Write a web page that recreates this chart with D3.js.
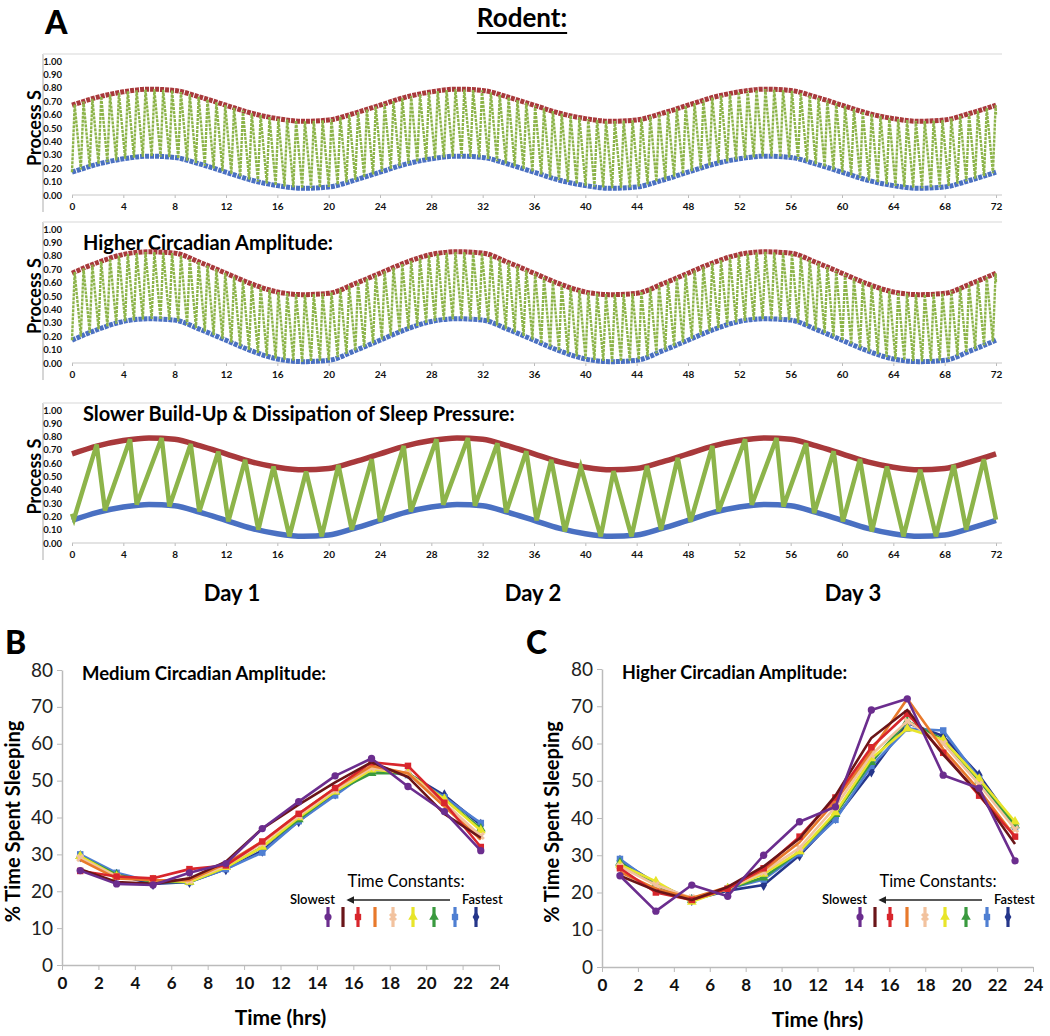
<!DOCTYPE html>
<html><head><meta charset="utf-8">
<script src="https://cdn.jsdelivr.net/npm/d3@7"></script>
<style>
body{margin:0;background:#fff}
svg{display:block}
text{font-family:Lato,"Open Sans",sans-serif}
</style>
</head><body>
<svg id="c" width="1050" height="1036"></svg>
<script>
// ---------------- DATA ----------------
// Panel A: hours for threshold readings
const hoursA = [0,2,4,6,8,10,12,14,16,18,20,22,24,26,28,30,32,34,36,38,40,42,44,46,48,50,52,54,56,58,60,62,64,66,68,70,72];
const xTicksA = [0,4,8,12,16,20,24,28,32,36,40,44,48,52,56,60,64,68,72];
const yTicksA = [0,0.1,0.2,0.3,0.4,0.5,0.6,0.7,0.8,0.9,1.0];
// Upper / lower thresholds, panel A1 (medium amplitude) — also panel A3
const upperA1 = [0.67,0.73,0.77,0.79,0.78,0.73,0.67,0.61,0.57,0.55,0.56,0.61,0.67,0.73,0.77,0.79,0.78,0.73,0.67,0.61,0.57,0.55,0.56,0.61,0.67,0.73,0.77,0.79,0.78,0.73,0.67,0.61,0.57,0.55,0.56,0.61,0.67];
const lowerA1 = [0.17,0.23,0.27,0.29,0.28,0.23,0.17,0.11,0.07,0.05,0.06,0.11,0.17,0.23,0.27,0.29,0.28,0.23,0.17,0.11,0.07,0.05,0.06,0.11,0.17,0.23,0.27,0.29,0.28,0.23,0.17,0.11,0.07,0.05,0.06,0.11,0.17];
// Panel A2 (higher amplitude)
const upperA2 = [0.67,0.75,0.81,0.83,0.82,0.75,0.67,0.59,0.53,0.51,0.52,0.59,0.67,0.75,0.81,0.83,0.82,0.75,0.67,0.59,0.53,0.51,0.52,0.59,0.67,0.75,0.81,0.83,0.82,0.75,0.67,0.59,0.53,0.51,0.52,0.59,0.67];
const lowerA2 = [0.17,0.25,0.31,0.33,0.32,0.25,0.17,0.09,0.03,0.01,0.02,0.09,0.17,0.25,0.31,0.33,0.32,0.25,0.17,0.09,0.03,0.01,0.02,0.09,0.17,0.25,0.31,0.33,0.32,0.25,0.17,0.09,0.03,0.01,0.02,0.09,0.17];
const fastCycleA1 = 0.69;
const fastCycleA2 = 0.69;
// Panel A3 slow sawtooth vertices (hours, Process S)
const sawTimesA3 = [0,0.15,1.92,2.57,4.52,5.04,6.99,7.59,9.25,9.92,11.4,12.18,13.49,14.52,15.7,16.94,18.24,19.46,20.76,21.8,23.36,24.0,
  25.85,26.4,28.4,28.93,30.85,31.4,33.15,33.83,35.4,36.2,37.35,38.4,39.65,41.2,42.2,43.6,44.8,45.9,47.2,48.2,
  49.9,50.37,52.45,52.97,54.9,55.44,57.2,57.83,59.35,60.07,61.4,62.33,63.5,64.79,66.1,67.32,68.7,69.68,71.05,72.0];
const sawValuesA3 = [0.22,0.18,0.74,0.245,0.78,0.29,0.79,0.275,0.745,0.237,0.687,0.162,0.625,0.10,0.575,0.05,0.537,0.05,0.587,0.10,0.63,0.162,
  0.73,0.237,0.78,0.287,0.79,0.28,0.75,0.23,0.69,0.17,0.625,0.087,0.57,0.05,0.54,0.05,0.58,0.10,0.64,0.16,
  0.73,0.237,0.78,0.287,0.79,0.275,0.75,0.225,0.69,0.162,0.63,0.087,0.575,0.05,0.55,0.05,0.587,0.10,0.63,0.175];
const dayLabels = ["Day 1","Day 2","Day 3"];

// Panels B / C
const hoursBC = [1,3,5,7,9,11,13,15,17,19,21,23];
const xTicksBC = [0,2,4,6,8,10,12,14,16,18,20,22,24];
const yTicksBC = [0,10,20,30,40,50,60,70,80];
// B: medium circadian amplitude (slowest -> fastest time constants)
const B_purple    = [25.6,22.0,21.7,25.0,27.5,37.0,44.3,51.3,56.0,48.4,41.6,31.0];
const B_maroon    = [26.0,22.5,22.0,23.5,28.0,37.0,43.5,49.5,55.0,51.0,41.0,34.5];
const B_red       = [25.5,24.0,23.5,26.0,27.0,33.5,41.0,48.0,55.0,54.0,44.0,32.0];
const B_orange    = [28.5,23.5,23.0,23.0,27.5,33.5,41.0,48.0,54.0,52.0,43.0,34.0];
const B_peach     = [29.0,24.0,23.0,23.0,27.0,33.0,40.5,47.5,53.5,52.0,44.0,35.0];
const B_yellow    = [29.5,24.0,23.0,22.5,26.5,32.0,40.0,47.0,53.0,52.0,45.0,36.5];
const B_green     = [29.5,24.5,22.5,22.5,26.5,32.0,39.5,47.0,52.0,52.0,45.0,37.0];
const B_lightblue = [30.0,25.0,22.5,22.5,26.0,30.5,39.0,46.0,53.0,51.5,45.5,38.5];
const B_navy      = [29.5,24.5,22.0,22.5,26.0,31.0,39.0,46.5,53.0,52.0,46.0,38.0];
// C: higher circadian amplitude
const C_purple    = [24.5,15.0,22.0,19.0,30.0,39.0,43.0,69.0,72.0,51.5,48.0,28.5];
const C_maroon    = [24.5,20.5,18.0,21.5,27.0,34.5,46.0,61.5,69.0,57.0,46.5,33.0];
const C_red       = [26.5,20.0,18.0,21.0,26.5,35.0,45.5,59.0,68.0,57.5,46.0,35.0];
const C_orange    = [25.5,21.0,18.5,21.5,26.0,33.5,44.5,58.0,72.0,58.5,47.5,35.0];
const C_peach     = [27.0,22.0,18.5,21.0,25.5,32.0,43.0,57.0,66.0,60.0,49.0,37.0];
const C_yellow    = [27.5,23.0,17.5,21.0,25.0,31.0,41.5,56.0,64.0,61.0,50.5,39.0];
const C_green     = [28.0,22.0,18.0,21.0,24.0,31.0,41.0,55.0,66.0,61.0,50.0,38.0];
const C_lightblue = [29.0,22.0,18.0,21.0,23.5,30.5,39.5,54.0,64.0,63.5,50.5,37.5];
const C_navy      = [28.5,22.5,18.0,20.5,22.0,30.0,40.0,52.5,65.5,62.0,51.5,38.0];

const seriesB = [B_purple,B_maroon,B_red,B_orange,B_peach,B_yellow,B_green,B_lightblue,B_navy];
const seriesC = [C_purple,C_maroon,C_red,C_orange,C_peach,C_yellow,C_green,C_lightblue,C_navy];

// ---------------- STYLE ----------------
const tcColors = ['#6b2d8e','#6a1519','#d8262c','#e8792b','#f2c29e','#e8e52a','#3a9a3f','#4f7fd2','#25368a'];
const tcSymbols = [d3.symbolCircle,null,d3.symbolSquare,null,d3.symbolCross,d3.symbolTriangle,d3.symbolTriangle,d3.symbolSquare,d3.symbolDiamond];
const RED = '#a8393b', BLUE = '#4a70c2', GREEN = '#8db44a';
const FONT = 'Lato, "Open Sans", sans-serif';

const svg = d3.select('#c');

// Titles
svg.append('text').attr('x',45).attr('y',34).attr('font-size',32).attr('font-weight',900).text('A');
const rod = svg.append('text').attr('x',522).attr('y',27).attr('text-anchor','middle')
  .attr('font-size',26).attr('font-weight',700).text('Rodent:');
const rb = rod.node().getBBox();
svg.append('line').attr('x1',rb.x).attr('x2',rb.x+rb.width).attr('y1',33).attr('y2',33)
  .attr('stroke','#000').attr('stroke-width',2);

const xA = d3.scaleLinear([0,72],[72,996]);

function drawA(cfg){
  const y = d3.scaleLinear([0,1],[cfg.y0,cfg.y1]);
  const g = svg.append('g');
  // frame
  g.append('line').attr('x1',43).attr('x2',43).attr('y1',cfg.y1-7).attr('y2',cfg.y0+17).attr('stroke','#c8c8c8').attr('stroke-width',1.5);
  g.append('line').attr('x1',43).attr('x2',1002).attr('y1',cfg.y1-7).attr('y2',cfg.y1-7).attr('stroke','#e4e4e4').attr('stroke-width',1.5);
  // x axis
  const ax = g.append('g').attr('transform',`translate(0,${cfg.y0})`)
    .call(d3.axisBottom(xA).tickValues(xTicksA).tickSize(3).tickSizeOuter(0).tickPadding(5));
  ax.select('.domain').remove();
  g.append('line').attr('x1',72).attr('x2',1002).attr('y1',cfg.y0).attr('y2',cfg.y0).attr('stroke','#c8c8c8').attr('stroke-width',1.2);
  ax.selectAll('.tick line').attr('stroke','#bbb');
  ax.selectAll('.tick text').attr('font-size',10).attr('font-weight',700).attr('fill','#111').style('font-family',FONT);
  // y labels
  const ay = g.append('g').attr('transform','translate(62,0)')
    .call(d3.axisLeft(y).tickValues(yTicksA).tickFormat(d3.format('.2f')).tickSize(0).tickPadding(0));
  ay.select('.domain').remove();
  ay.selectAll('.tick text').attr('font-size',9.5).attr('font-weight',700).attr('fill','#111').style('font-family',FONT);
  // y title
  g.append('text').attr('transform',`translate(41,${(cfg.y0+cfg.y1)/2}) rotate(-90)`).attr('text-anchor','middle')
    .attr('font-size',18).attr('font-weight',700).text('Process S');
  if(cfg.title){
    g.append('text').attr('x',cfg.tx).attr('y',cfg.ty).attr('font-size',20).attr('font-weight',700).text(cfg.title);
  }
  const lineT = d3.line().x((d,i)=>xA(hoursA[i])).y(d=>y(d)).curve(d3.curveMonotoneX);
  const drawThr = (w,dash)=>{
    g.append('path').attr('d',lineT(cfg.upper)).attr('fill','none').attr('stroke',RED).attr('stroke-width',w).attr('stroke-dasharray',dash);
    g.append('path').attr('d',lineT(cfg.lower)).attr('fill','none').attr('stroke',BLUE).attr('stroke-width',w).attr('stroke-dasharray',dash);
  };
  if(cfg.fast){
    const up = d3.scaleLinear(hoursA,cfg.upper), lo = d3.scaleLinear(hoursA,cfg.lower);
    const P = cfg.fast, pts = [];
    for(let t=0;t<72-1e-6;t+=P){
      pts.push([t,lo(t)]);
      const tp = Math.min(72,t+0.3*P);
      pts.push([tp,up(tp)]);
    }
    pts.push([72,0.6]);
    drawThr(5,'4,1');
    g.append('path').attr('d',d3.line().x(d=>xA(d[0])).y(d=>y(d[1]))(pts))
      .attr('fill','none').attr('stroke',GREEN).attr('stroke-width',2.4).attr('stroke-dasharray','3,1');
  } else {
    drawThr(5.5,null);
    g.append('path').attr('d',d3.line().x((d,i)=>xA(sawTimesA3[i])).y(d=>y(d))(cfg.saw))
      .attr('fill','none').attr('stroke',GREEN).attr('stroke-width',4.5).attr('stroke-linejoin','miter');
  }
}

drawA({y0:195,y1:61,upper:upperA1,lower:lowerA1,fast:fastCycleA1});
drawA({y0:363,y1:229,upper:upperA2,lower:lowerA2,fast:fastCycleA2,title:'Higher Circadian Amplitude:',tx:83,ty:250});
drawA({y0:543,y1:410,upper:upperA1,lower:lowerA1,saw:sawValuesA3,title:'Slower Build-Up & Dissipation of Sleep Pressure:',tx:83,ty:421});

[232,533,853].forEach((cx,i)=>{
  svg.append('text').attr('x',cx).attr('y',601).attr('text-anchor','middle').attr('font-size',22).attr('font-weight',700).text(dayLabels[i]);
});

// ---------------- Panels B / C ----------------
const legendOffsets = [0,15,30,47,65,85,106,127,148];
function drawBC(cfg){
  const x = d3.scaleLinear([0,24],[cfg.x0,cfg.x1]);
  const y = d3.scaleLinear([0,80],[cfg.yb,cfg.yt]);
  const g = svg.append('g');
  g.append('text').attr('x',cfg.lx).attr('y',cfg.ly).attr('font-size',32).attr('font-weight',900).text(cfg.letter);
  const ay = g.append('g').attr('transform',`translate(${cfg.x0},0)`)
    .call(d3.axisLeft(y).tickValues(yTicksBC).tickSize(5).tickSizeOuter(0).tickPadding(4));
  ay.select('.domain').attr('stroke','#bbb').attr('stroke-width',1.5);
  ay.selectAll('.tick line').attr('stroke','#bbb');
  ay.selectAll('.tick text').attr('font-size',19).attr('fill','#222').style('font-family',FONT);
  const ax = g.append('g').attr('transform',`translate(0,${cfg.yb})`)
    .call(d3.axisBottom(x).tickValues(xTicksBC).tickSize(5).tickSizeOuter(0).tickPadding(7));
  ax.select('.domain').attr('stroke','#bbb').attr('stroke-width',1.5);
  ax.selectAll('.tick line').attr('stroke','#bbb');
  ax.selectAll('.tick text').attr('font-size',17).attr('font-weight',700).attr('fill','#111').style('font-family',FONT);
  g.append('text').attr('transform',`translate(${cfg.ytx},${(cfg.yb+cfg.yt)/2+4}) rotate(-90)`).attr('text-anchor','middle')
    .attr('font-size',20).attr('font-weight',700).text('% Time Spent Sleeping');
  g.append('text').attr('x',(cfg.x0+cfg.x1)/2).attr('y',cfg.yb+60).attr('text-anchor','middle')
    .attr('font-size',21).attr('font-weight',700).text('Time (hrs)');
  g.append('text').attr('x',cfg.x0+20).attr('y',cfg.yt+10).attr('font-size',cfg.tfs).attr('font-weight',700).text(cfg.title);

  const line = d3.line().x((d,i)=>x(hoursBC[i])).y(d=>y(d));
  for(let k=cfg.series.length-1;k>=0;k--){
    const s = cfg.series[k];
    g.append('path').attr('d',line(s)).attr('fill','none').attr('stroke',tcColors[k]).attr('stroke-width',2.6).attr('stroke-linejoin','round');
    if(tcSymbols[k]){
      g.selectAll(null).data(s).join('path')
        .attr('transform',(d,i)=>`translate(${x(hoursBC[i])},${y(d)})${tcSymbols[k]===d3.symbolCross?' rotate(45)':''}`)
        .attr('d',d3.symbol(tcSymbols[k],42)).attr('fill',tcColors[k]);
    }
  }
  // legend
  const L = g.append('g');
  L.append('text').attr('x',cfg.legX+78).attr('y',cfg.legY-12).attr('text-anchor','middle').attr('font-size',16.5).text('Time Constants:');
  L.append('text').attr('x',cfg.legX+7).attr('y',cfg.legY+5).attr('text-anchor','end').attr('font-size',13).attr('font-weight',600).text('Slowest');
  L.append('text').attr('x',cfg.legX+134).attr('y',cfg.legY+5).attr('font-size',13).attr('font-weight',600).text('Fastest');
  L.append('line').attr('x1',cfg.legX+122).attr('x2',cfg.legX+20).attr('y1',cfg.legY+1).attr('y2',cfg.legY+1)
    .attr('stroke','#222').attr('stroke-width',1.6).attr('marker-end','url(#arr)');
  legendOffsets.forEach((o,k)=>{
    const mx = cfg.legX + o, my = cfg.legY + 18;
    L.append('line').attr('x1',mx).attr('x2',mx).attr('y1',my-10).attr('y2',my+10).attr('stroke',tcColors[k]).attr('stroke-width',3.2);
    if(tcSymbols[k]){
      L.append('path').attr('transform',`translate(${mx},${my})${tcSymbols[k]===d3.symbolCross?' rotate(45)':''}`)
        .attr('d',d3.symbol(tcSymbols[k],40)).attr('fill',tcColors[k]);
    }
  });
}

const defs = svg.append('defs');
defs.append('marker').attr('id','arr').attr('viewBox','0 0 10 10').attr('refX',8).attr('refY',5)
  .attr('markerWidth',5).attr('markerHeight',5).attr('orient','auto')
  .append('path').attr('d','M0,0L10,5L0,10z').attr('fill','#222');

drawBC({x0:62,x1:499,yb:965,yt:670,series:seriesB,letter:'B',lx:5,ly:654,ytx:20,
  title:'Medium Circadian Amplitude:',tfs:18.5,legX:328,legY:899});
drawBC({x0:602,x1:1033,yb:967,yt:669,series:seriesC,letter:'C',lx:526,ly:654,ytx:559,
  title:'Higher Circadian Amplitude:',tfs:18,legX:860,legY:899});
</script>
</body></html>
